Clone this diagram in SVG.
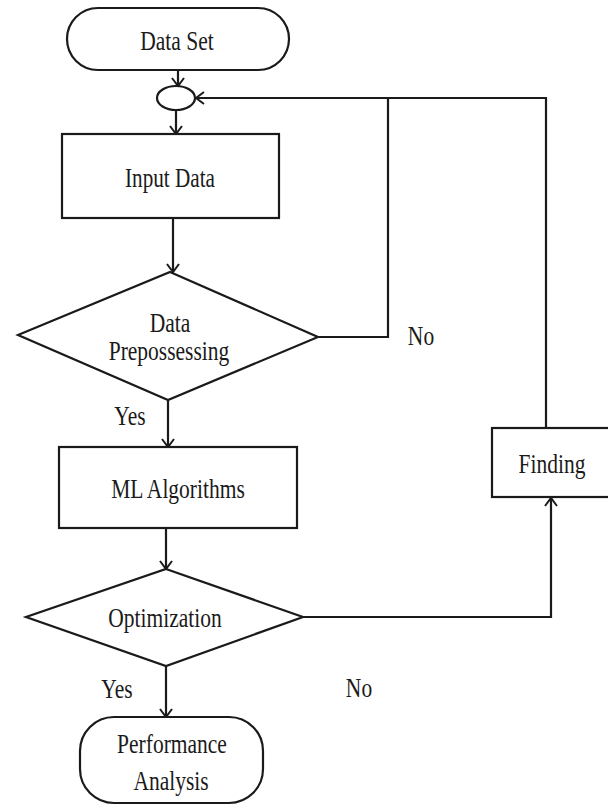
<svg xmlns="http://www.w3.org/2000/svg" width="608" height="807" viewBox="0 0 608 807">
<style>
.s{fill:#fff;stroke:#1a1a1a;stroke-width:2.2}
.c{fill:none;stroke:#1a1a1a;stroke-width:2.2}
text{font-family:"Liberation Serif","Times New Roman",serif;font-size:21.5px;fill:#1a1a1a;text-anchor:middle}
</style>
<defs>
<marker id="a" markerUnits="userSpaceOnUse" markerWidth="16" markerHeight="16" refX="10" refY="8" orient="auto">
<path d="M2,2 L10,8 L2,14" fill="none" stroke="#1a1a1a" stroke-width="2"/>
</marker>
</defs>
<rect width="608" height="807" fill="#fff"/>
<g id="connectors">
<line class="c" x1="178" y1="70" x2="178" y2="86" marker-end="url(#a)"/>
<line class="c" x1="176" y1="110" x2="176" y2="134" marker-end="url(#a)"/>
<line class="c" x1="173" y1="218" x2="173" y2="272" marker-end="url(#a)"/>
<polyline class="c" points="318,337 388,337 388,98"/>
<polyline class="c" points="546,428 546,98 196,98" marker-end="url(#a)"/>
<line class="c" x1="168" y1="400" x2="168" y2="447" marker-end="url(#a)"/>
<line class="c" x1="166" y1="528" x2="166" y2="569" marker-end="url(#a)"/>
<polyline class="c" points="303,617 551,617 551,498" marker-end="url(#a)"/>
<line class="c" x1="166" y1="666" x2="166" y2="717" marker-end="url(#a)"/>
</g>
<g id="dataset">
<rect class="s" x="67" y="8" width="222" height="62" rx="31"/>
<text transform="translate(177,50) scale(1,1.3)">Data Set</text>
</g>
<g id="junction">
<ellipse class="s" cx="176" cy="98" rx="19" ry="12"/>
</g>
<g id="input">
<rect class="s" x="62" y="134" width="217" height="84"/>
<text transform="translate(170,187) scale(1,1.3)" textLength="90" lengthAdjust="spacingAndGlyphs">Input Data</text>
</g>
<g id="preprocess">
<polygon class="s" points="170,272 318,337 168,400 18,335"/>
<text transform="translate(170,332) scale(1,1.3)">Data</text>
<text transform="translate(169,360) scale(1,1.3)">Prepossessing</text>
</g>
<g id="ml">
<rect class="s" x="59" y="447" width="238" height="81"/>
<text transform="translate(178,498) scale(1,1.3)">ML Algorithms</text>
</g>
<g id="optimization">
<polygon class="s" points="166,569 303,617 166,666 26,617"/>
<text transform="translate(165,627) scale(1,1.3)">Optimization</text>
</g>
<g id="finding">
<rect class="s" x="492" y="428" width="120" height="69"/>
<text transform="translate(552,473) scale(1,1.3)">Finding</text>
</g>
<g id="performance">
<rect class="s" x="80" y="717" width="183" height="86" rx="34"/>
<text transform="translate(172,753) scale(1,1.3)">Performance</text>
<text transform="translate(171,790) scale(1,1.3)">Analysis</text>
</g>
<g id="labels">
<text transform="translate(421,345) scale(1,1.3)">No</text>
<text transform="translate(130,425) scale(1,1.3)">Yes</text>
<text transform="translate(117,698) scale(1,1.3)">Yes</text>
<text transform="translate(359,697) scale(1,1.3)">No</text>
</g>
</svg>
